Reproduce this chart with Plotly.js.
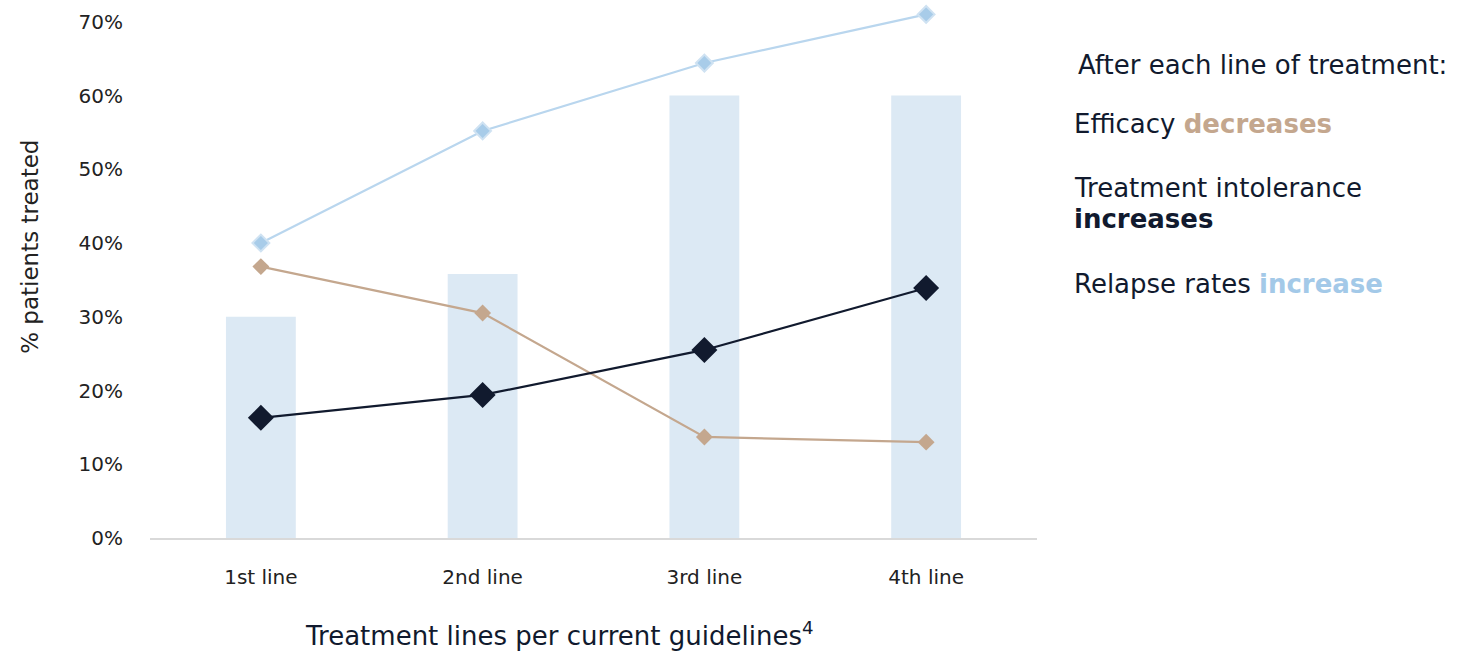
<!DOCTYPE html>
<html>
<head>
<meta charset="utf-8">
<script src="https://cdn.plot.ly/plotly-3.0.1.min.js"></script>
<style>
html,body{margin:0;padding:0;background:#fff;}
#chart{width:1473px;height:654px;}
</style>
</head>
<body>
<div id="chart"></div>
<script>
const categories = ["1st line", "2nd line", "3rd line", "4th line"];
const barValues = [30, 35.8, 60, 60];
const relapseValues = [40, 55.2, 64.4, 71];
const efficacyValues = [36.8, 30.5, 13.7, 13];
const intoleranceValues = [16.3, 19.4, 25.5, 33.9];
const yTickValues = [0, 10, 20, 30, 40, 50, 60, 70];
const yTickLabels = ["0%", "10%", "20%", "30%", "40%", "50%", "60%", "70%"];

const FONT = "'DejaVu Sans', sans-serif";
const NAVY = "#111a2e";
const TAN = "#c4a78e";
const LBLUE = "#b9d6ee";

const traces = [
  {
    type: "bar", x: categories, y: barValues, width: 0.315,
    marker: {color: "#dce9f4"}, hoverinfo: "y", showlegend: false, name: "Patients treated"
  },
  {
    type: "scatter", mode: "lines+markers", x: categories, y: relapseValues, name: "Relapse rates",
    line: {color: LBLUE, width: 2.2},
    marker: {symbol: "diamond", size: 13, color: "#a8cce9", line: {color: "#cfe2f2", width: 2}},
    cliponaxis: false, showlegend: false
  },
  {
    type: "scatter", mode: "lines+markers", x: categories, y: efficacyValues, name: "Efficacy",
    line: {color: TAN, width: 2.2},
    marker: {symbol: "diamond", size: 13, color: TAN},
    cliponaxis: false, showlegend: false
  },
  {
    type: "scatter", mode: "lines+markers", x: categories, y: intoleranceValues, name: "Treatment intolerance",
    line: {color: NAVY, width: 2.2},
    marker: {symbol: "diamond", size: 20, color: NAVY},
    cliponaxis: false, showlegend: false
  }
];

const ANNX = 1.0395;
const layout = {
  width: 1473, height: 654,
  margin: {l: 150, r: 436, t: 7.3, b: 116},
  paper_bgcolor: "#fff", plot_bgcolor: "#fff",
  font: {family: FONT, color: "#222", size: 20},
  xaxis: {
    type: "category", range: [-0.5, 3.5], showgrid: false, zeroline: false,
    showline: true, linecolor: "#d9d9d9", linewidth: 1.5,
    ticks: "", ticklabelstandoff: 20,
    tickfont: {family: FONT, size: 20, color: "#222"},
    automargin: false
  },
  yaxis: {
    range: [0, 72], tickmode: "array", tickvals: yTickValues, ticktext: yTickLabels,
    showgrid: false, zeroline: false,
    showline: false, ticks: "", ticklabelstandoff: 26,
    tickfont: {family: FONT, size: 20, color: "#222"},
    automargin: false
  },
  annotations: [
    {xref: "paper", yref: "paper", x: 0.4622, y: -0.1809, xanchor: "center", yanchor: "middle",
     showarrow: false, text: "Treatment lines per current guidelines<sup>4</sup>",
     font: {family: FONT, size: 26, color: NAVY}},
    {xref: "paper", yref: "paper", x: -0.1353, y: 0.5483, xanchor: "center", yanchor: "middle",
     showarrow: false, textangle: -90, text: "% patients treated",
     font: {family: FONT, size: 23, color: "#222"}},
    {xref: "paper", yref: "paper", x: ANNX + 0.0045, y: 0.8913, xanchor: "left", yanchor: "middle",
     showarrow: false, align: "left", text: "After each line of treatment:",
     font: {family: FONT, size: 26, color: NAVY}},
    {xref: "paper", yref: "paper", x: ANNX, y: 0.7801, xanchor: "left", yanchor: "middle",
     showarrow: false, align: "left",
     text: "Efficacy <b><span style='color:" + TAN + "'>decreases</span></b>",
     font: {family: FONT, size: 26, color: NAVY}},
    {xref: "paper", yref: "paper", x: ANNX, y: 0.6595, xanchor: "left", yanchor: "middle",
     showarrow: false, align: "left",
     text: "Treatment intolerance",
     font: {family: FONT, size: 26, color: NAVY}},
    {xref: "paper", yref: "paper", x: ANNX, y: 0.6011, xanchor: "left", yanchor: "middle",
     showarrow: false, align: "left",
     text: "<b>increases</b>",
     font: {family: FONT, size: 26, color: NAVY}},
    {xref: "paper", yref: "paper", x: ANNX, y: 0.4786, xanchor: "left", yanchor: "middle",
     showarrow: false, align: "left",
     text: "Relapse rates <b><span style='color:#a3c9e8'>increase</span></b>",
     font: {family: FONT, size: 26, color: NAVY}}
  ]
};

Plotly.newPlot("chart", traces, layout, {displayModeBar: false, staticPlot: true});
</script>
</body>
</html>
